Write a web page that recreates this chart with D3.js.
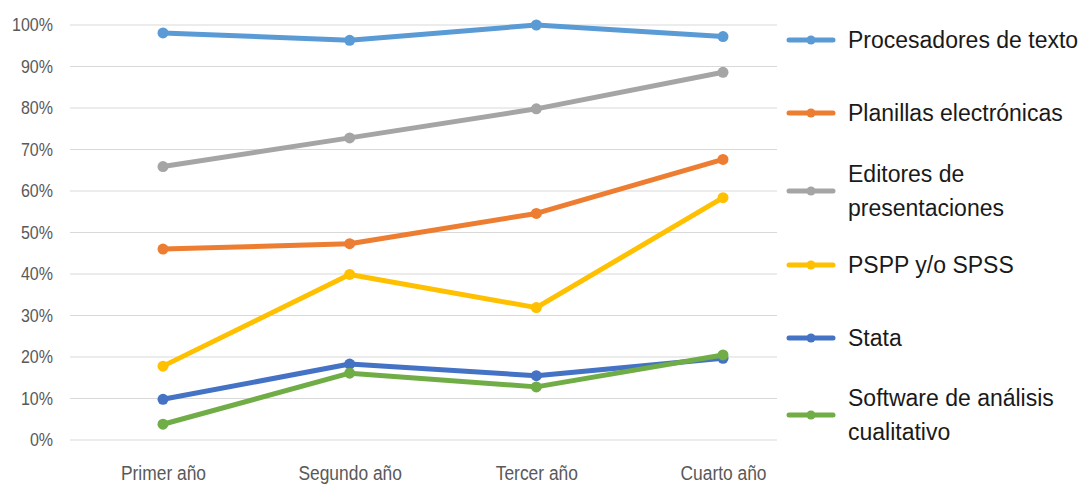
<!DOCTYPE html>
<html><head><meta charset="utf-8">
<script src="https://cdn.jsdelivr.net/npm/d3@7"></script>
<style>
html,body{margin:0;padding:0;background:#fff;}
svg{display:block;}
</style></head>
<body>
<svg id="chart" width="1082" height="485"></svg>
<script>
const categories = ["Primer año", "Segundo año", "Tercer año", "Cuarto año"];
const seriesNames = ["Procesadores de texto", "Planillas electrónicas", "Editores de presentaciones", "PSPP y/o SPSS", "Stata", "Software de análisis cualitativo"];
const procesadores = [98.1, 96.3, 100, 97.2];
const planillas = [46.0, 47.3, 54.6, 67.6];
const editores = [65.9, 72.8, 79.8, 88.6];
const pspp = [17.8, 39.9, 31.9, 58.4];
const stata = [9.8, 18.3, 15.5, 19.7];
const software = [3.8, 16.1, 12.8, 20.5];
const colors = ["#5B9BD5", "#ED7D31", "#A5A5A5", "#FFC000", "#4472C4", "#70AD47"];
const yTicks = [0, 10, 20, 30, 40, 50, 60, 70, 80, 90, 100];
const legendLines = [["Procesadores de texto"], ["Planillas electrónicas"], ["Editores de", "presentaciones"], ["PSPP y/o SPSS"], ["Stata"], ["Software de análisis", "cualitativo"]];

const allSeries = [procesadores, planillas, editores, pspp, stata, software];
const svg = d3.select("#chart");
const tickFont = "'Liberation Sans', Arial, sans-serif";

const y = d3.scaleLinear().domain([0, 100]).range([440, 25]);
const x = d3.scalePoint().domain(categories).range([163, 723]);
const gridLeft = 70, gridRight = 777;

// gridlines
svg.append("g").selectAll("line").data(yTicks).join("line")
  .attr("x1", gridLeft).attr("x2", gridRight)
  .attr("y1", d => y(d)).attr("y2", d => y(d))
  .attr("stroke", "#d9d9d9").attr("stroke-width", 1);

// y axis labels
const yAxis = d3.axisLeft(y).tickValues(yTicks).tickFormat(d => d + "%").tickSize(0).tickPadding(0);
const gy = svg.append("g").attr("transform", "translate(53,0)").call(yAxis);
gy.select(".domain").remove();
gy.selectAll("text").attr("font-family", tickFont).attr("font-size", 18).attr("fill", "#595959")
  .attr("transform", "scale(0.89,1)");

// x axis labels
const xAxis = d3.axisBottom(x).tickSize(0).tickPadding(0);
const gx = svg.append("g").attr("transform", "translate(0,466)").call(xAxis);
gx.select(".domain").remove();
gx.selectAll("text").attr("font-family", tickFont).attr("font-size", 20).attr("fill", "#595959")
  .attr("transform", "scale(0.87,1)");

// lines
const line = d3.line().x((d, i) => x(categories[i])).y(d => y(d));
allSeries.forEach((vals, si) => {
  const g = svg.append("g");
  g.append("path").datum(vals).attr("d", line)
    .attr("fill", "none").attr("stroke", colors[si]).attr("stroke-width", 5)
    .attr("stroke-linejoin", "round").attr("stroke-linecap", "round");
  g.selectAll("circle").data(vals).join("circle")
    .attr("cx", (d, i) => x(categories[i])).attr("cy", d => y(d))
    .attr("r", 5.5).attr("fill", colors[si]);
});

// legend
const legendMarkerY = [40, 113, 191, 265, 338, 415];
const legend = svg.append("g");
legendLines.forEach((lines, i) => {
  const cy = legendMarkerY[i];
  legend.append("line").attr("x1", 789).attr("x2", 833).attr("y1", cy).attr("y2", cy)
    .attr("stroke", colors[i]).attr("stroke-width", 5).attr("stroke-linecap", "round");
  legend.append("circle").attr("cx", 811).attr("cy", cy).attr("r", 4.5).attr("fill", colors[i]);
  const n = lines.length;
  lines.forEach((t, j) => {
    legend.append("text").attr("x", 848).attr("y", cy + (j - (n - 1) / 2) * 34)
      .attr("dy", "0.35em")
      .attr("font-family", "'Liberation Sans', Arial, sans-serif").attr("font-size", 23)
      .attr("fill", "#1a1a1a").text(t);
  });
});
</script>
</body></html>
